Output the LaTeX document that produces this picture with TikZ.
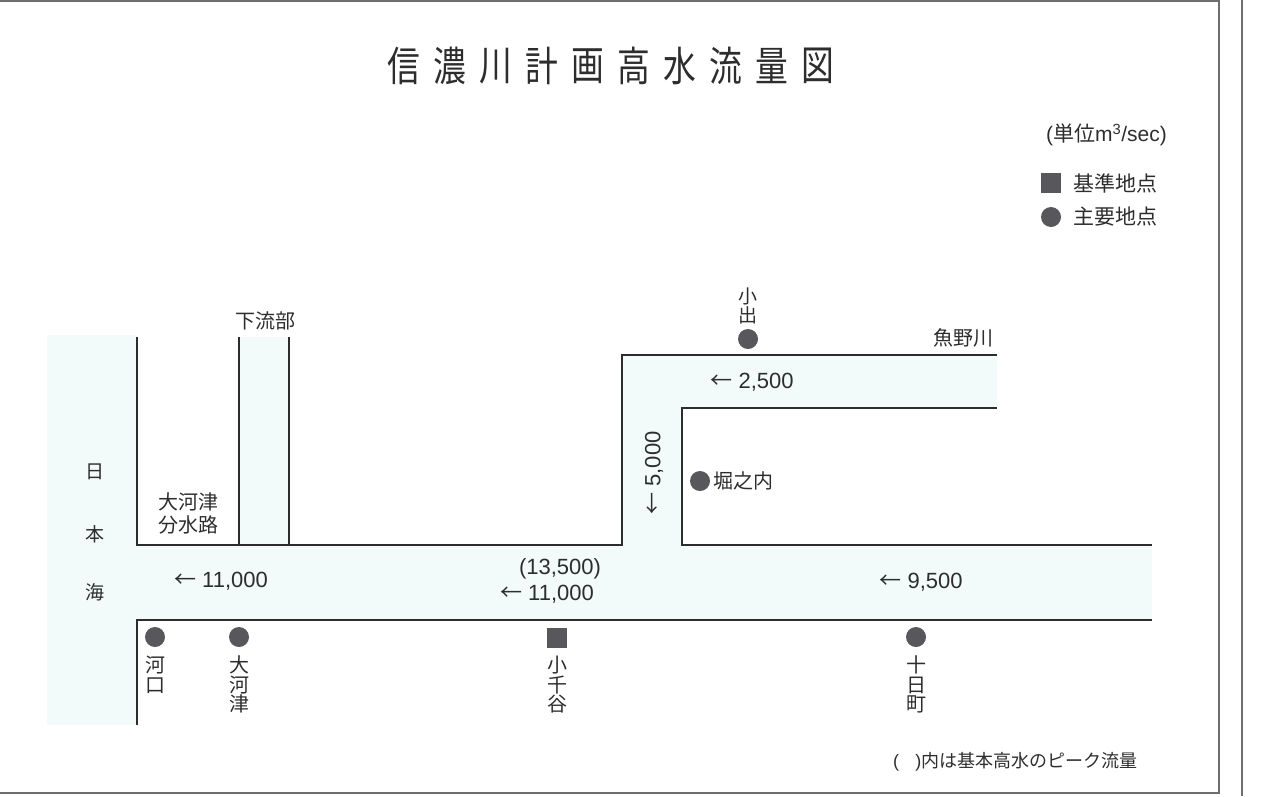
\documentclass[tikz,border=0pt]{standalone}
\usepackage{fontspec}
\setmainfont{Liberation Sans}
\newfontfamily\jp{Noto Sans CJK JP}
\usepackage{xcolor}
\usepackage{tikz}
\definecolor{ink}{RGB}{45,45,45}
\definecolor{mark}{RGB}{88,88,92}
\definecolor{water}{RGB}{243,250,250}
\definecolor{framegray}{RGB}{110,110,110}
\tikzset{every picture/.style={x=1pt,y=-1pt,every node/.style={inner sep=0pt,text=ink}},
  bank/.style={draw=ink,line width=1.3pt},
  spot/.style={circle,fill=mark,minimum size=20pt},
  basespot/.style={rectangle,fill=mark,minimum size=20pt},
  flow/.style={font=\fontsize{22}{26}\selectfont},
  place/.style={font=\jp\fontsize{20}{19.5}\selectfont,align=center},
  rivername/.style={font=\jp\fontsize{20}{23}\selectfont,align=center},
  titlechar/.style={font=\jp\fontsize{41}{44}\selectfont,xscale=0.8}}
\newcommand{\la}{{\jp ←}}

\begin{document}
\begin{tikzpicture}
        \useasboundingbox (0,0) rectangle (1263,796);
        % frame
        \draw[framegray, line width=1.5pt] (0,1) -- (1219,1) -- (1219,793) -- (0,793);
        \draw[framegray, line width=1.5pt] (1242,0) -- (1242,796);

        % title
        \foreach \c [count=\i from 0] in {信,濃,川,計,画,高,水,流,量,図}
          \node[titlechar] (t\i) at (404+46*\i, 66) {\c};

        % legend
        \node[font=\fontsize{21}{24}\selectfont, anchor=east] (unit) at (1167, 135) {({\jp 単位}m\textsuperscript{3}/sec)};
        \node[basespot] (keybase) at (1051, 183) {};
        \node[rivername, font=\jp\fontsize{21}{24}\selectfont, anchor=west] (keybasetext) at (1073, 183) {基準地点};
        \node[spot] (keymain) at (1051, 217) {};
        \node[rivername, font=\jp\fontsize{21}{24}\selectfont, anchor=west] (keymaintext) at (1073, 217) {主要地点};

        % water
        \fill[water] (47, 335) rectangle (137, 725);
        \fill[water] (137, 545) rectangle (1152, 620);
        \fill[water] (239, 337) rectangle (289, 545);
        \fill[water] (622, 545) |- (997, 355) |- (682, 408) -- (682, 545) -- cycle;

        % banks
        \draw[bank] (137, 337) -- (137, 545) -- (622, 545) -- (622, 355) -- (997, 355);
        \draw[bank] (239, 337) -- (239, 545);
        \draw[bank] (289, 337) -- (289, 545);
        \draw[bank] (997, 408) -- (682, 408) -- (682, 545) -- (1152, 545);
        \draw[bank] (137, 725) -- (137, 620) -- (1152, 620);

        % sea
        \foreach \c/\y in {日/472, 本/534, 海/592}
          \node[font=\jp\fontsize{19}{19}\selectfont] (sea\y) at (95, \y) {\c};

        % river names
        \node[rivername] (karyubu) at (265, 321) {下流部};
        \node[rivername] (bunsuiro) at (188, 513) {大河津\\分水路};
        \node[rivername] (uonogawa) at (963, 338) {魚野川};

        % points
        \node[spot] (kako) at (155, 637) {};
        \node[spot] (okozu) at (239, 637) {};
        \node[basespot] (ojiya) at (557, 638) {};
        \node[spot] (tokamachi) at (916, 637) {};
        \node[spot] (koide) at (748, 339) {};
        \node[spot] (horinouchi) at (700, 481) {};

        \node[place, anchor=north] (kakoname) at (155, 656) {河\\口};
        \node[place, anchor=north] (okozuname) at (239, 656) {大\\河\\津};
        \node[place, anchor=north] (ojiyaname) at (557, 656) {小\\千\\谷};
        \node[place, anchor=north] (tokamachiname) at (916, 656) {十\\日\\町};
        \node[place, font=\jp\fontsize{19}{18.5}\selectfont, anchor=south] (koidename) at (748, 324) {小\\出};
        \node[rivername, anchor=west] (horinouchiname) at (713, 481) {堀之内};

        % flows
        \node[flow] (q1) at (221, 581) {\la\ 11,000};
        \node[flow] (q2peak) at (560, 569) {(13,500)};
        \node[flow] (q2) at (547, 594) {\la\ 11,000};
        \node[flow] (q3) at (921, 582) {\la\ 9,500};
        \node[flow] (q4) at (752, 382) {\la\ 2,500};
        \node[flow, rotate=90] (q5) at (654, 473) {\la\ 5,000};

        % note
        \node[font=\fontsize{18}{20}\selectfont, anchor=west] (note) at (893, 762) {(\hspace{0.9em}){\jp 内は基本高水のピーク流量}};
      \end{tikzpicture}
\end{document}
